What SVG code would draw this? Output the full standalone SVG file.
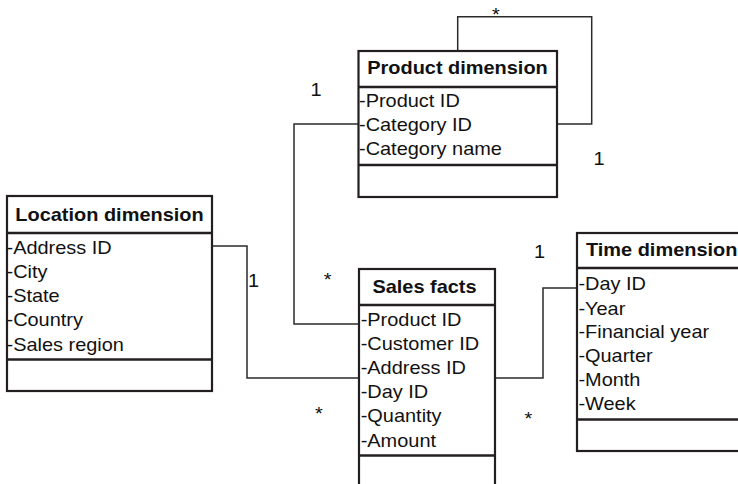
<svg xmlns="http://www.w3.org/2000/svg" width="738" height="484" viewBox="0 0 738 484">
<style>
.box{fill:#fff;stroke:#231f20;stroke-width:2.2}
.div{stroke:#231f20;stroke-width:2.6}
.con{fill:none;stroke:#2b2b2b;stroke-width:1.5}
text{font-family:"Liberation Sans",Arial,sans-serif;font-size:17.5px;fill:#111}
.t{font-weight:bold;text-anchor:middle}
.m{text-anchor:middle}
</style>
<rect width="738" height="484" fill="#fff"/>
<g id="connectors">
<path class="con" d="M457.7 51 V16.7 H591.7 V124 H557.5"/>
<path class="con" d="M358.5 124 H294 V324 H359"/>
<path class="con" d="M212 246 H247 V378 H359"/>
<path class="con" d="M495 378 H543 V288 H577"/>
</g>
<g id="location-dimension">
<rect class="box" x="7" y="196" width="205" height="195"/>
<line class="div" x1="7" y1="233" x2="212" y2="233"/>
<line class="div" x1="7" y1="359.5" x2="212" y2="359.5"/>
<g transform="scale(1.14,1)">
<text class="t" x="96.05" y="221">Location dimension</text>
<text x="5.7" y="254">-Address ID</text>
<text x="5.7" y="278">-City</text>
<text x="5.7" y="302">-State</text>
<text x="5.7" y="326.5">-Country</text>
<text x="5.7" y="351">-Sales region</text>
</g>
</g>
<g id="product-dimension">
<rect class="box" x="358.5" y="51" width="198.5" height="146"/>
<line class="div" x1="358.5" y1="87" x2="557" y2="87"/>
<line class="div" x1="358.5" y1="165" x2="557" y2="165"/>
<g transform="scale(1.14,1)">
<text class="t" x="401.32" y="74.5">Product dimension</text>
<text x="314.91" y="107">-Product ID</text>
<text x="314.91" y="131">-Category ID</text>
<text x="314.91" y="155">-Category name</text>
</g>
</g>
<g id="sales-facts">
<rect class="box" x="359" y="269" width="136" height="230"/>
<line class="div" x1="359" y1="305" x2="495" y2="305"/>
<line class="div" x1="359" y1="455.5" x2="495" y2="455.5"/>
<g transform="scale(1.14,1)">
<text class="t" x="372.37" y="293">Sales facts</text>
<text x="316.4" y="326">-Product ID</text>
<text x="316.4" y="350">-Customer ID</text>
<text x="316.4" y="374.3">-Address ID</text>
<text x="316.4" y="398.3">-Day ID</text>
<text x="316.4" y="422.5">-Quantity</text>
<text x="316.4" y="446.6">-Amount</text>
</g>
</g>
<g id="time-dimension">
<rect class="box" x="577" y="233" width="172" height="218"/>
<line class="div" x1="577" y1="268" x2="749" y2="268"/>
<line class="div" x1="577" y1="419.5" x2="749" y2="419.5"/>
<g transform="scale(1.14,1)">
<text class="t" x="514.04" y="256.5" style="text-anchor:start">Time dimension</text>
<text x="507.37" y="290.5">-Day ID</text>
<text x="507.37" y="314.5">-Year</text>
<text x="507.37" y="338.5">-Financial year</text>
<text x="507.37" y="362.5">-Quarter</text>
<text x="507.37" y="386.5">-Month</text>
<text x="507.37" y="410.5">-Week</text>
</g>
</g>
<g id="multiplicities" transform="scale(1.14,1)">
<text class="m" x="277.19" y="96">1</text>
<text class="m" x="435.09" y="21.5">*</text>
<text class="m" x="525.44" y="165">1</text>
<text class="m" x="287.46" y="286.5">*</text>
<text class="m" x="222.37" y="286.7">1</text>
<text class="m" x="279.82" y="420">*</text>
<text class="m" x="473.25" y="257.7">1</text>
<text class="m" x="463.42" y="425">*</text>
</g>
</svg>
